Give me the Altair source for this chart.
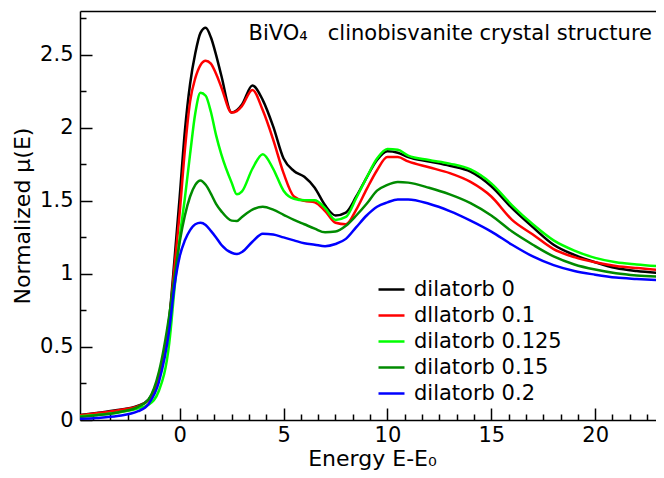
import altair as alt
import pandas as pd

# ---- data ----
energy = [-4.8, -4.0, -3.0, -2.0, -1.5, -1.0, -0.5, -0.25, 0.0, 0.25, 0.5, 0.75,
          1.0, 1.25, 1.5, 1.75, 2.0, 2.5, 2.75, 3.0, 3.5, 4.0, 4.5, 5.0, 5.5, 6.0, 6.5,
          7.0, 7.5, 8.0, 8.5, 9.0, 9.5, 10.0, 10.5, 11.0, 12.0, 13.0, 14.0, 15.0,
          16.0, 17.0, 18.0, 19.0, 20.0, 21.0, 22.0, 23.3]

mu_0 = [0.034, 0.048, 0.068, 0.098, 0.14, 0.31, 0.70, 1.10, 1.53, 1.98, 2.30, 2.51,
        2.65, 2.685, 2.62, 2.50, 2.36, 2.105, 2.12, 2.16, 2.29, 2.19, 2.01, 1.79, 1.705, 1.665, 1.59,
        1.47, 1.40, 1.42, 1.53, 1.66, 1.78, 1.84, 1.83, 1.80, 1.77, 1.74, 1.70, 1.60,
        1.45, 1.32, 1.20, 1.13, 1.08, 1.04, 1.02, 1.005]

mu_01 = [0.032, 0.046, 0.066, 0.095, 0.135, 0.29, 0.68, 1.05, 1.42, 1.85, 2.18, 2.34,
         2.43, 2.46, 2.44, 2.37, 2.28, 2.105, 2.115, 2.15, 2.26, 2.12, 1.92, 1.69, 1.53, 1.50, 1.49,
         1.43, 1.35, 1.34, 1.44, 1.58, 1.71, 1.80, 1.80, 1.77, 1.73, 1.69, 1.63, 1.53,
         1.37, 1.27, 1.17, 1.115, 1.08, 1.055, 1.04, 1.025]

mu_0125 = [0.025, 0.035, 0.05, 0.08, 0.105, 0.20, 0.53, 0.90, 1.25, 1.52, 1.82, 2.10,
           2.24, 2.22, 2.11, 1.95, 1.82, 1.625, 1.545, 1.565, 1.72, 1.82, 1.72, 1.57, 1.515, 1.505, 1.505,
           1.45, 1.37, 1.39, 1.52, 1.66, 1.79, 1.855, 1.85, 1.81, 1.78, 1.755, 1.715, 1.62,
           1.47, 1.34, 1.23, 1.16, 1.11, 1.08, 1.065, 1.05]

mu_015 = [0.022, 0.033, 0.052, 0.09, 0.14, 0.33, 0.72, 0.98, 1.22, 1.40, 1.53, 1.61,
          1.64, 1.61, 1.55, 1.48, 1.43, 1.365, 1.362, 1.39, 1.44, 1.46, 1.44, 1.405, 1.37, 1.34, 1.31,
          1.285, 1.29, 1.33, 1.40, 1.48, 1.57, 1.61, 1.63, 1.625, 1.59, 1.545, 1.485, 1.40,
          1.29, 1.20, 1.12, 1.065, 1.03, 1.005, 0.99, 0.98]

mu_02 = [0.008, 0.014, 0.027, 0.06, 0.11, 0.26, 0.62, 0.92, 1.12, 1.23, 1.30, 1.34,
         1.35, 1.335, 1.295, 1.25, 1.20, 1.145, 1.136, 1.15, 1.22, 1.275, 1.27, 1.25, 1.23, 1.21, 1.20,
         1.19, 1.205, 1.24, 1.32, 1.40, 1.46, 1.49, 1.51, 1.51, 1.48, 1.43, 1.365, 1.29,
         1.20, 1.12, 1.06, 1.02, 0.995, 0.975, 0.965, 0.955]

series_names = ["dilatorb 0", "dllatorb 0.1", "dilatorb 0.125", "dilatorb 0.15", "dilatorb 0.2"]
series_colors = ["#000000", "#ff0000", "#00ff00", "#008b00", "#0000ff"]

title_text = ["BiVO₄\u00a0\u00a0\u00a0clinobisvanite crystal structure"]

x_major = [0, 5, 10, 15, 20]
x_minor = [-4.1667, -3.3333, -2.5, -1.6667, -0.8333, 0.8333, 1.6667, 2.5, 3.3333, 4.1667,
           5.8333, 6.6667, 7.5, 8.3333, 9.1667, 10.8333, 11.6667, 12.5, 13.3333, 14.1667,
           15.8333, 16.6667, 17.5, 18.3333, 19.1667, 20.8333, 21.6667, 22.5]
y_major = [0, 0.5, 1, 1.5, 2, 2.5]
y_minor = [0.25, 0.75, 1.25, 1.75, 2.25, 2.75]

rows = []
for name, vals in zip(series_names, [mu_0, mu_01, mu_0125, mu_015, mu_02]):
    for e, v in zip(energy, vals):
        rows.append({"E": e, "mu": v, "series": name})
df = pd.DataFrame(rows)

W, H = 576, 409
FONT = "DejaVu Sans"
xscale = alt.Scale(domain=[-4.8, 22.93], nice=False, zero=False)
yscale = alt.Scale(domain=[0, 2.8], nice=False, zero=False)

base = alt.Chart(df)

lines = base.mark_line(strokeWidth=2.5, interpolate="monotone", clip=True).encode(
    x=alt.X("E:Q", scale=xscale, axis=alt.Axis(
        orient="bottom", values=x_major, format="d", ticks=False, tickSize=0,
        labelPadding=4, labelFontSize=21, labelFont=FONT, labelColor="black",
        domainColor="black", domainWidth=1.5, grid=False,
        title="Energy E-E₀", titleFont=FONT, titleFontSize=22, titleFontWeight="normal",
        titleColor="black", titleX=(664 - 80) / 2, titleY=45, titleBaseline="alphabetic")),
    y=alt.Y("mu:Q", scale=yscale, axis=alt.Axis(
        orient="left", values=y_major, format="~g", ticks=False, tickSize=0,
        labelPadding=7, labelFontSize=21, labelFont=FONT, labelColor="black",
        domainColor="black", domainWidth=1.5, grid=False,
        title="Normalized μ(E)", titleFont=FONT, titleFontSize=22, titleFontWeight="normal",
        titleColor="black", titleX=-50.5, titleY=H / 2, titleAngle=270,
        titleBaseline="alphabetic", titleAlign="center")),
    color=alt.Color("series:N", scale=alt.Scale(domain=series_names, range=series_colors),
                    legend=alt.Legend(title=None, orient="none", legendX=301, legendY=268,
                                      symbolType="M-2,0H2", symbolSize=169,
                                      symbolStrokeWidth=2.5, labelFontSize=21, labelFont=FONT,
                                      labelColor="black", rowPadding=4, labelOffset=12,
                                      padding=0)),
)

major = base.mark_line(strokeOpacity=0).encode(
    x=alt.X("E:Q", scale=xscale, axis=alt.Axis(
        orient="top", offset=-H, values=x_major, labels=False, domain=False,
        tickSize=12, tickWidth=1.5, tickColor="black", grid=False, title=None)),
    y=alt.Y("mu:Q", scale=yscale, axis=alt.Axis(
        orient="right", offset=-W, values=y_major, labels=False, domain=False,
        tickSize=12, tickWidth=1.5, tickColor="black", grid=False, title=None)),
)

minor = base.mark_line(strokeOpacity=0).encode(
    x=alt.X("E:Q", scale=xscale, axis=alt.Axis(
        orient="top", offset=-H, values=x_minor, labels=False, domain=False,
        tickSize=6, tickWidth=1.5, tickColor="black", grid=False, title=None)),
    y=alt.Y("mu:Q", scale=yscale, axis=alt.Axis(
        orient="right", offset=-W, values=y_minor, labels=False, domain=False,
        tickSize=6, tickWidth=1.5, tickColor="black", grid=False, title=None)),
)

frame_top = base.mark_line(strokeOpacity=0).encode(
    x=alt.X("E:Q", scale=xscale, axis=alt.Axis(
        orient="top", offset=0, values=x_major, labels=False, ticks=False, tickSize=0,
        domain=True, domainColor="black", domainWidth=1.5, grid=False, title=None)),
    y=alt.Y("mu:Q", scale=yscale, axis=None),
)

label = alt.Chart(pd.DataFrame({"t": title_text})).mark_text(
    align="right", baseline="alphabetic", fontSize=21, font=FONT, color="black"
).encode(text="t:N", x=alt.value(572), y=alt.value(29))

chart = alt.layer(lines, major, minor, frame_top, label).resolve_axis(
    x="independent", y="independent"
).properties(
    width=W, height=H,
    autosize=alt.AutoSizeParams(type="none"),
    padding={"left": 72, "top": 3, "right": 0, "bottom": 50},
).configure_view(stroke=None)

chart.save("out.html", embed_options={"renderer": "svg", "actions": False})
